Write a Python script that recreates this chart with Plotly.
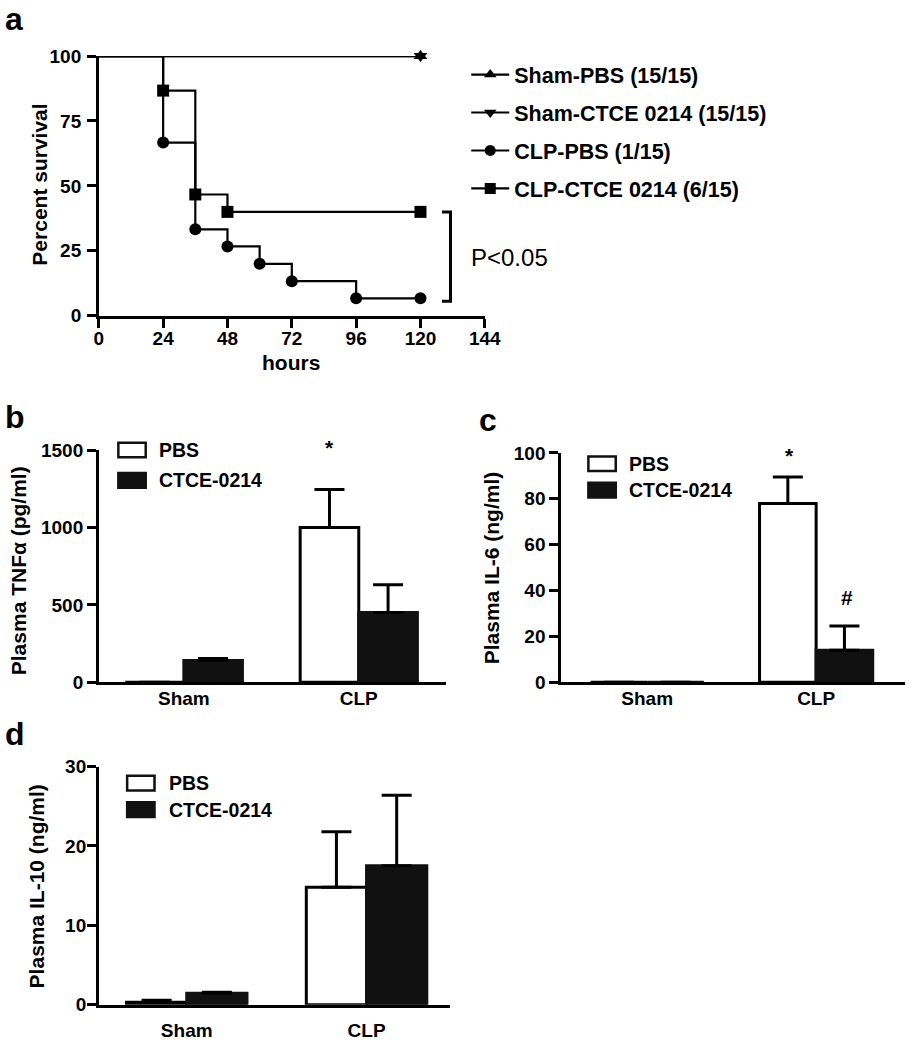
import plotly.graph_objects as go

# ---------------- data ----------------
# Panel a: Kaplan-Meier survival
hours_sham = [0, 120]
surv_sham_pbs = [100, 100]
surv_sham_ctce = [100, 100]
hours_clp_pbs = [0, 24, 36, 48, 60, 72, 96, 120]
surv_clp_pbs = [100, 66.7, 33.3, 26.7, 20.0, 13.3, 6.7, 6.7]
hours_clp_ctce = [0, 24, 36, 48, 120]
surv_clp_ctce = [100, 86.7, 46.7, 40.0, 40.0]
surv_names = ["Sham-PBS (15/15)", "Sham-CTCE 0214 (15/15)", "CLP-PBS (1/15)", "CLP-CTCE 0214 (6/15)"]
x_ticks_a = [0, 24, 48, 72, 96, 120, 144]
y_ticks_a = [0, 25, 50, 75, 100]

# Panels b-d: cytokines
groups = ["Sham", "CLP"]
tnf_pbs = [0, 1000]
tnf_pbs_err = [0, 245]
tnf_ctce = [140, 450]
tnf_ctce_err = [13, 180]
il6_pbs = [0, 78]
il6_pbs_err = [0, 11.5]
il6_ctce = [0, 14]
il6_ctce_err = [0, 10.5]
il10_pbs = [0.3, 14.8]
il10_pbs_err = [0.25, 7.0]
il10_ctce = [1.45, 17.5]
il10_ctce_err = [0.12, 8.9]

# ---------------- helpers ----------------
W, H = 921, 1050
FONT = "Liberation Sans, Arial, Helvetica, sans-serif"


def px(x):
    return x / W


def py(y):
    return 1 - y / H


fig = go.Figure()

# ---------------- panel a ----------------
LW = 2.2
MS = 12
series = [(hours_sham, surv_sham_pbs), (hours_sham, surv_sham_ctce),
          (hours_clp_pbs, surv_clp_pbs), (hours_clp_ctce, surv_clp_ctce)]
for xs, ys in series:
    fig.add_trace(go.Scatter(x=xs, y=ys, mode="lines", line=dict(color="black", width=LW, shape="hv"),
                             showlegend=False, cliponaxis=False, xaxis="x", yaxis="y", hoverinfo="skip"))
symbols = ["triangle-up", "triangle-down", "circle", "square"]
for (xs, ys), sym in zip(series, symbols):
    fig.add_trace(go.Scatter(x=xs[1:], y=ys[1:], mode="markers",
                             marker=dict(color="black", size=MS, symbol=sym),
                             showlegend=False, cliponaxis=False, xaxis="x", yaxis="y"))
for i, (name, sym) in enumerate(zip(surv_names, symbols)):
    fig.add_trace(go.Scatter(x=[None], y=[None], mode="lines+markers", name=name,
                             line=dict(color="black", width=LW),
                             marker=dict(color="black", size=11, symbol=sym),
                             legendgroup=f"g{i}", xaxis="x", yaxis="y"))

# ---------------- bar panels ----------------
BAR_LW = 3
ERR = dict(type="data", symmetric=False, color="black", thickness=3, width=15)


def add_bars(xa, ya, pbs, pbs_err, ctce, ctce_err):
    fig.add_trace(go.Bar(x=groups, y=pbs, name="PBS", showlegend=False,
                         marker=dict(color="white", line=dict(color="black", width=BAR_LW)),
                         error_y=dict(array=pbs_err, arrayminus=[0] * len(pbs), **ERR),
                         xaxis=xa, yaxis=ya, offsetgroup="pbs"))
    fig.add_trace(go.Bar(x=groups, y=ctce, name="CTCE-0214", showlegend=False,
                         marker=dict(color="#111111", line=dict(color="#111111", width=BAR_LW)),
                         error_y=dict(array=ctce_err, arrayminus=[0] * len(ctce), **ERR),
                         xaxis=xa, yaxis=ya, offsetgroup="ctce"))


add_bars("x2", "y2", tnf_pbs, tnf_pbs_err, tnf_ctce, tnf_ctce_err)
add_bars("x3", "y3", il6_pbs, il6_pbs_err, il6_ctce, il6_ctce_err)
add_bars("x4", "y4", il10_pbs, il10_pbs_err, il10_ctce, il10_ctce_err)

# ---------------- axes ----------------
AX_LW = 2.5
tickfont = dict(family=FONT, size=19, color="black", weight="bold")
common = dict(showline=True, linecolor="black", linewidth=AX_LW, showgrid=False, zeroline=False,
              tickfont=tickfont, ticks="outside", ticklen=9, tickwidth=AX_LW, tickcolor="black",
              fixedrange=True)
cat = {**common, "ticks": ""}

layout_axes = dict(
    xaxis=dict(domain=[px(96), px(491)], range=[0, 144], tickvals=x_ticks_a, anchor="y",
               ticklabelstandoff=-5, **common),
    yaxis=dict(domain=[py(312), py(47)], range=[0, 100], tickvals=y_ticks_a, anchor="x",
               ticklabelstandoff=2, **common),
    xaxis2=dict(domain=[px(96), px(451)], range=[-0.486, 1.497], type="category", anchor="y2",
                ticklabelstandoff=-3, **cat),
    yaxis2=dict(domain=[py(686), py(449)], range=[0, 1500], tickvals=[0, 500, 1000, 1500], anchor="x2",
                ticklabelstandoff=0, **common),
    xaxis3=dict(domain=[px(569), px(921)], range=[-0.51, 1.526], type="category", anchor="y3",
                ticklabelstandoff=-3, **cat),
    yaxis3=dict(domain=[py(686), py(452)], range=[0, 100], tickvals=[0, 20, 40, 60, 80, 100], anchor="x3",
                ticklabelstandoff=0, **common),
    xaxis4=dict(domain=[px(96), px(455)], range=[-0.489, 1.462], type="category", anchor="y4",
                ticklabelstandoff=7, **cat),
    yaxis4=dict(domain=[py(1015), py(772)], range=[0, 30], tickvals=[0, 10, 20, 30], anchor="x4",
                ticklabelstandoff=-3, **common),
)

# ---------------- annotations & shapes ----------------
ann = []
shapes = []


def text(x, y, s, size=21, bold=True, xanchor="center", angle=0):
    ann.append(dict(x=px(x), y=py(y), xref="paper", yref="paper", text=s, showarrow=False,
                    xanchor=xanchor, yanchor="middle", textangle=angle,
                    font=dict(family=FONT, size=size, color="black", weight="bold" if bold else "normal")))


# panel letters
text(9, 9, "a", size=32)
text(10, 415, "b", size=32)
text(494, 418, "c", size=32)
text(10, 739, "d", size=32)

# axis titles
text(35, 178, "Percent survival", angle=-90)
text(293, 360, "hours")
text(14, 572, "Plasma TNFα (pg/ml)", angle=-90)
text(498, 569, "Plasma IL-6 (ng/ml)", angle=-90)
text(32, 894, "Plasma IL-10 (ng/ml)", angle=-90)

# significance marks
text(332, 446, "*", size=21)
text(803, 455, "*", size=21)
text(862, 599, "#", size=21)
text(475, 253, "P&lt;0.05", size=24, bold=False, xanchor="left")

# bracket in panel a
shapes.append(dict(type="path", xref="x", yref="y",
                   path="M 128,40 L 131.2,40 L 131.2,5.6 L 128,5.6",
                   line=dict(color="black", width=3)))


# bar legends
def bar_legend(x0, y_pbs, y_ctce, tx):
    for yc, fill, label in [(y_pbs, "white", "PBS"), (y_ctce, "#111111", "CTCE-0214")]:
        shapes.append(dict(type="rect", xref="paper", yref="paper",
                           x0=px(x0), x1=px(x0 + 28), y0=py(yc + 7.5), y1=py(yc - 7.5),
                           fillcolor=fill, line=dict(color="#111111", width=2.5)))
        text(tx, yc, label, size=19.5, xanchor="left")


bar_legend(116, 449, 480, 156)
bar_legend(597, 463, 490, 637)
bar_legend(125, 789, 816, 166)

fig.update_layout(
    width=W, height=H,
    margin=dict(l=0, r=0, t=0, b=0),
    paper_bgcolor="white", plot_bgcolor="white",
    barmode="group", bargap=0.33, bargroupgap=0,
    font=dict(family=FONT, color="black"),
    showlegend=True,
    legend=dict(x=px(472), y=py(45), xanchor="left", yanchor="top",
                font=dict(family=FONT, size=21.5, color="black", weight="bold"),
                bgcolor="rgba(0,0,0,0)", tracegroupgap=7, itemwidth=38),
    annotations=ann,
    shapes=shapes,
    **layout_axes,
)

fig.write_html("out.html", config={"displayModeBar": False},
               post_script="document.body.style.margin='0';document.body.style.padding='0';"
                           "document.body.style.overflow='hidden';")
